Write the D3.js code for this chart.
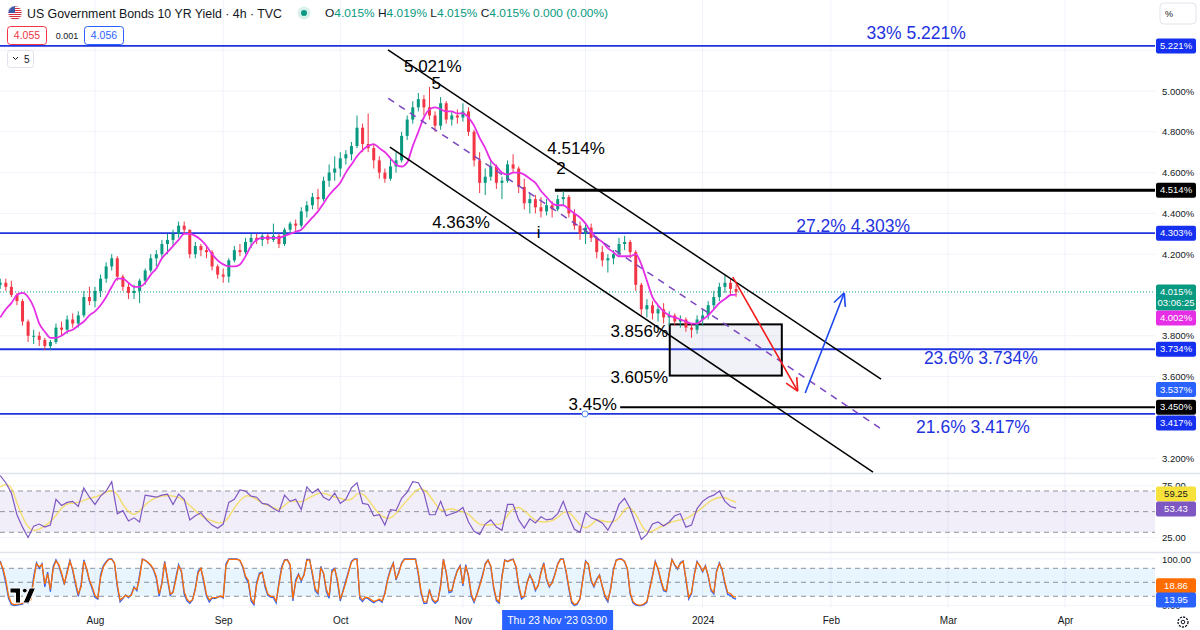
<!DOCTYPE html>
<html>
<head>
<meta charset="utf-8">
<script src="https://cdn.jsdelivr.net/npm/d3@7"></script>
<style>
  body { margin: 0; background: #fff; }
  svg { display: block; font-family: "Liberation Sans", Arial, sans-serif; }
</style>
</head>
<body>
<svg id="chart" width="1200" height="630"></svg>
<script>
// ---- daily candles, Jul 7 2023 .. Jan 9 2024 (weekdays only) ----
const opens = [4.05,4.06,4.04,4.00,3.97,3.87,3.80,3.80,3.78,3.75,
  3.77,3.84,3.83,3.88,3.86,3.90,3.99,
  3.97,4.02,4.08,4.14,4.18,4.09,4.04,4.01,4.02,4.07,
  4.12,4.18,4.20,4.25,4.27,4.30,4.34,4.32,4.20,4.24,
  4.22,4.21,4.14,4.10,4.09,4.17,4.22,4.21,4.26,4.28,
  4.27,4.29,4.27,4.29,4.25,4.32,4.35,4.34,4.41,4.44,
  4.48,4.47,4.56,4.60,4.62,4.67,4.69,4.73,4.82,4.74,
  4.72,4.66,4.60,4.57,4.63,4.66,4.78,4.86,4.92,4.96,
  4.92,4.88,4.83,4.94,4.86,4.88,4.87,4.90,4.80,4.66,
  4.55,4.58,4.63,4.55,4.56,4.64,4.62,4.53,4.45,4.47,
  4.43,4.41,4.44,4.42,4.47,4.48,4.40,4.34,4.30,4.33,
  4.28,4.21,4.17,4.18,4.20,4.25,4.26,4.21,4.05,3.93,
  3.95,3.91,3.93,3.89,3.90,3.87,3.88,3.84,3.83,3.88,
  3.90,3.95,3.99,4.04,4.06,4.03];
const highs = [4.08,4.08,4.07,4.01,3.98,3.88,3.83,3.82,3.79,3.78,
  3.86,3.87,3.90,3.91,3.92,4.02,4.04,
  4.04,4.10,4.16,4.20,4.19,4.10,4.06,4.05,4.08,4.13,
  4.20,4.22,4.27,4.30,4.32,4.36,4.36,4.32,4.26,4.25,
  4.24,4.22,4.15,4.13,4.18,4.24,4.25,4.28,4.30,4.30,
  4.30,4.30,4.35,4.30,4.33,4.36,4.37,4.43,4.46,4.50,
  4.52,4.58,4.64,4.68,4.70,4.71,4.75,4.88,4.84,4.89,
  4.74,4.68,4.62,4.67,4.70,4.80,4.88,4.95,4.99,4.98,
  5.02,4.90,4.97,4.95,4.90,4.91,4.94,4.92,4.81,4.70,
  4.62,4.66,4.64,4.58,4.66,4.69,4.63,4.57,4.50,4.49,
  4.48,4.47,4.46,4.49,4.51,4.49,4.42,4.36,4.35,4.35,
  4.29,4.24,4.20,4.22,4.28,4.29,4.27,4.22,4.06,3.98,
  3.97,3.95,3.96,3.92,3.91,3.90,3.89,3.86,3.90,3.93,
  3.97,4.02,4.06,4.10,4.08,4.05];
const lows = [4.03,4.02,3.99,3.95,3.85,3.77,3.76,3.75,3.73,3.73,
  3.76,3.80,3.81,3.84,3.84,3.89,3.95,
  3.94,3.99,4.06,4.12,4.07,4.02,3.98,3.98,3.96,4.05,
  4.11,4.14,4.18,4.20,4.24,4.28,4.30,4.18,4.18,4.19,
  4.18,4.12,4.08,4.06,4.06,4.16,4.19,4.20,4.23,4.25,
  4.24,4.25,4.26,4.23,4.24,4.30,4.31,4.33,4.38,4.42,
  4.42,4.46,4.53,4.56,4.58,4.64,4.66,4.72,4.70,4.70,
  4.62,4.57,4.55,4.56,4.60,4.65,4.76,4.84,4.90,4.88,
  4.86,4.80,4.81,4.84,4.83,4.84,4.85,4.78,4.63,4.50,
  4.49,4.56,4.52,4.47,4.55,4.60,4.50,4.42,4.40,4.40,
  4.38,4.39,4.38,4.41,4.44,4.38,4.32,4.27,4.25,4.26,
  4.18,4.14,4.11,4.15,4.19,4.22,4.18,4.02,3.90,3.89,
  3.88,3.87,3.86,3.85,3.85,3.84,3.82,3.79,3.81,3.85,
  3.88,3.93,3.97,4.01,4.00,3.99];
const closes = [4.06,4.04,4.00,3.97,3.87,3.80,3.80,3.78,3.75,3.77,
  3.84,3.83,3.88,3.86,3.90,3.99,3.97,
  4.02,4.08,4.14,4.18,4.09,4.04,4.01,4.02,4.07,4.12,
  4.18,4.20,4.25,4.27,4.30,4.34,4.32,4.20,4.24,4.22,
  4.21,4.14,4.10,4.09,4.17,4.22,4.21,4.26,4.28,4.27,
  4.29,4.27,4.29,4.25,4.32,4.35,4.34,4.41,4.44,4.48,
  4.47,4.56,4.60,4.62,4.67,4.69,4.73,4.82,4.74,4.72,
  4.66,4.60,4.57,4.63,4.66,4.78,4.86,4.92,4.96,4.92,
  4.88,4.83,4.94,4.86,4.88,4.87,4.90,4.80,4.66,4.55,
  4.58,4.63,4.55,4.56,4.64,4.62,4.53,4.45,4.47,4.43,
  4.41,4.44,4.42,4.47,4.48,4.40,4.34,4.30,4.33,4.28,
  4.21,4.17,4.18,4.20,4.25,4.26,4.21,4.05,3.93,3.95,
  3.91,3.93,3.89,3.90,3.87,3.88,3.84,3.83,3.88,3.90,
  3.95,3.99,4.04,4.06,4.03,4.015];

// magenta moving average, one value per candle
const maLine = [3.89,3.93,3.96,4.00,4.01,3.99,3.94,3.86,3.82,3.79,3.79,3.80,3.82,3.83,3.85,3.87,3.90,
  3.92,3.95,3.99,4.04,4.08,4.08,4.06,4.04,4.04,4.06,
  4.10,4.13,4.18,4.21,4.24,4.27,4.30,4.30,4.29,4.27,
  4.24,4.20,4.17,4.15,4.14,4.14,4.15,4.19,4.24,4.27,
  4.28,4.28,4.28,4.28,4.29,4.30,4.31,4.32,4.35,4.38,
  4.41,4.45,4.49,4.52,4.55,4.60,4.64,4.68,4.71,4.73,
  4.74,4.72,4.70,4.67,4.64,4.63,4.65,4.73,4.80,4.87,
  4.91,4.92,4.91,4.90,4.90,4.89,4.89,4.87,4.83,4.77,
  4.72,4.66,4.63,4.60,4.59,4.60,4.60,4.59,4.57,4.55,
  4.51,4.48,4.45,4.44,4.44,4.42,4.40,4.38,4.35,4.31,
  4.28,4.26,4.23,4.21,4.19,4.19,4.19,4.20,4.15,4.07,
  3.99,3.95,3.92,3.90,3.89,3.88,3.87,3.86,3.86,3.88,
  3.90,3.93,3.96,3.98,4.00,4.002];

// RSI and its moving average, one value per candle
const rsi = [85,78,68,47,35,25,36,38,35,37,62,56,59,60,55,73,64,
  57,65,70,79,48,51,41,44,40,66,
  65,64,66,67,57,67,62,42,46,49,
  42,37,34,38,59,62,71,70,65,64,
  58,57,53,50,66,60,62,52,74,68,
  72,64,61,68,58,62,73,78,58,57,
  46,47,37,52,51,63,69,79,78,68,
  47,47,60,46,48,50,54,40,31,28,
  38,42,35,32,57,57,42,34,43,39,
  45,42,43,48,60,45,33,30,49,44,
  42,39,32,42,57,63,53,38,23,28,
  38,40,36,40,46,48,35,37,53,60,
  64,66,70,60,55,53.43];
const rsiMa = [74,77,75,58,45,34,31,33,36,40,46,54,58,58,59,61,63,
  64,66,69,71,68,56,50,46,50,57,
  61,64,65,66,65,64,61,56,51,46,
  43,41,39,39,44,54,61,66,65,62,
  58,56,54,51,56,61,60,59,62,65,
  68,68,66,64,63,61,61,68,68,62,
  54,47,44,43,48,55,61,67,73,72,
  66,58,50,52,53,51,50,48,42,37,
  37,37,38,37,47,53,55,51,46,41,
  40,40,41,44,50,50,44,37,33,37,
  43,41,40,40,43,53,55,48,37,29,
  31,34,37,39,41,42,43,46,50,54,
  59,62,64,64,61,59.25];

// stochastic RSI, two readings per candle
const stochK = [96,75,48,15,2,0,1,2,3,9,5,18,62,92,80,90,40,72,30,84,98,86,66,45,74,97,75,45,20,45,98,78,52,36,
  18,14,66,86,94,100,100,90,40,8,
  15,23,17,24,40,32,66,100,97,92,
  86,76,58,20,50,95,55,22,30,60,
  88,72,25,10,5,12,38,74,80,50,
  20,8,16,15,18,20,16,90,100,100,
  100,100,96,82,60,50,10,2,50,70,
  72,40,22,18,17,6,50,84,98,99,
  86,10,55,68,52,68,99,99,66,32,
  25,84,68,30,16,76,80,50,10,33,
  54,75,95,100,100,15,9,17,15,10,
  6,10,12,7,28,58,78,92,55,72,
  92,100,100,100,100,100,66,25,5,5,
  35,12,5,10,45,100,70,28,30,58,
  76,86,42,88,62,20,7,25,45,65,
  90,98,83,38,10,5,64,98,94,98,
  100,83,40,14,19,50,67,52,32,44,
  72,92,55,40,50,68,90,100,100,72,
  36,6,0,3,14,58,96,88,52,40,
  57,66,40,18,8,38,78,98,100,100,
  94,78,24,6,1,0,0,2,7,38,
  65,95,78,52,32,30,70,99,86,78,
  92,96,55,14,26,68,95,84,72,86,
  62,32,25,75,92,76,46,24,22,16,
  13.95];
const stochD = [94,79,55,20,5,2,3,4,5,11,8,13,55,90,83,88,46,68,35,80,96,88,70,48,70,95,78,50,25,40,95,80,55,40,
  22,16,60,83,92,99,99,92,45,12,
  17,22,19,22,38,35,60,99,97,93,
  87,78,62,25,46,92,60,25,28,55,
  85,75,30,14,8,13,35,70,80,55,
  24,12,17,17,17,21,18,85,99,99,
  99,99,97,85,63,54,15,5,45,67,
  71,45,25,20,20,10,45,80,97,98,
  88,15,50,66,55,65,97,98,70,36,
  28,80,70,35,20,72,79,55,14,30,
  50,72,93,99,99,20,12,18,17,13,
  9,11,14,10,25,55,75,90,58,70,
  90,99,99,99,99,99,70,30,8,8,
  32,15,8,12,40,99,72,32,32,55,
  74,84,46,85,65,25,10,23,42,62,
  88,97,85,42,14,8,60,97,95,97,
  99,85,45,18,20,48,65,55,35,42,
  70,90,58,42,48,66,88,99,99,75,
  40,10,2,5,15,55,94,90,55,42,
  55,65,42,22,12,35,75,97,99,99,
  95,80,28,9,3,1,1,4,9,35,
  62,93,80,56,35,32,68,98,88,80,
  90,95,58,18,28,65,93,86,74,84,
  65,35,28,72,90,78,50,28,26,19,
  18.86];

// axis ticks
const priceTicks = [5.0, 4.8, 4.6, 4.4, 4.2, 3.8, 3.6, 3.2];
const priceGrid = [5.2, 5.0, 4.8, 4.6, 4.4, 4.2, 4.0, 3.8, 3.6, 3.4, 3.2];
const monthDates = ['2023-08-01','2023-09-01','2023-10-01','2023-11-01','2023-12-01','2024-01-01','2024-02-01','2024-03-01','2024-04-01'];
const monthLabels = ['Aug','Sep','Oct','Nov','Dec','2024','Feb','Mar','Apr'];

// drawn levels
const blueLevels = [5.221, 4.303, 3.734, 3.417];
const blueLevelText = ['33% 5.221%', '27.2% 4.303%', '23.6% 3.734%', '21.6% 3.417%'];

const BLUE = '#1f33e0', GREEN = '#089981', RED = '#f23645', INK = '#131722';
const PLOT_R = 1155;

// bar index counted in weekdays from the first candle
const START = new Date(2023, 6, 7);
function barOf(s) {
  const [Y, M, D] = s.split('-').map(Number);
  const t = new Date(Y, M - 1, D);
  let n = 0;
  for (let d = new Date(START); d < t; d.setDate(d.getDate() + 1)) {
    const w = d.getDay();
    if (w !== 0 && w !== 6) n++;
  }
  return n;
}

const x = d3.scaleLinear().domain([barOf('2023-08-01'), barOf('2024-04-01')]).range([95, 1065]);
const y = d3.scaleLinear().domain([3.2, 5.0]).range([458.2, 91]);
const yRsi = d3.scaleLinear().domain([30, 70]).range([532.3, 491]);
const yStoch = d3.scaleLinear().domain([20, 80]).range([596.3, 568.3]);

const svg = d3.select('#chart');
const defs = svg.append('defs');
defs.append('clipPath').attr('id', 'clipP').append('rect').attr('x', 0).attr('y', 0).attr('width', PLOT_R).attr('height', 473);
defs.append('clipPath').attr('id', 'clipR').append('rect').attr('x', 0).attr('y', 474).attr('width', PLOT_R).attr('height', 78);
defs.append('clipPath').attr('id', 'clipS').append('rect').attr('x', 0).attr('y', 553).attr('width', PLOT_R).attr('height', 56);
defs.append('clipPath').attr('id', 'clipFlag').append('circle').attr('cx', 15).attr('cy', 13).attr('r', 7);

// ---- grid ----
const grid = svg.append('g');
monthDates.forEach((d) => {
  grid.append('line').attr('x1', x(barOf(d))).attr('x2', x(barOf(d)))
    .attr('y1', 0).attr('y2', 609).attr('stroke', '#f0f3fa');
});
priceGrid.forEach((v) => {
  grid.append('line').attr('x1', 0).attr('x2', PLOT_R).attr('y1', y(v)).attr('y2', y(v)).attr('stroke', '#f0f3fa');
});
[75, 25].forEach((v) => grid.append('line').attr('x1', 0).attr('x2', PLOT_R).attr('y1', yRsi(v)).attr('y2', yRsi(v)).attr('stroke', '#f0f3fa'));
[100, 0].forEach((v) => grid.append('line').attr('x1', 0).attr('x2', PLOT_R).attr('y1', yStoch(v)).attr('y2', yStoch(v)).attr('stroke', '#f0f3fa'));

// panel separators
[473.5, 552.5].forEach((yy) => svg.append('line').attr('x1', 0).attr('x2', 1200).attr('y1', yy).attr('y2', yy).attr('stroke', '#e0e3eb').attr('stroke-width', 1.5));

// ---- price panel ----
const pg = svg.append('g').attr('clip-path', 'url(#clipP)');

// current price dotted line
pg.append('line').attr('x1', 0).attr('x2', PLOT_R).attr('y1', y(4.015)).attr('y2', y(4.015))
  .attr('stroke', GREEN).attr('stroke-dasharray', '1,2');

blueLevels.forEach((v) => {
  pg.append('line').attr('x1', 0).attr('x2', PLOT_R).attr('y1', y(v)).attr('y2', y(v))
    .attr('stroke', BLUE).attr('stroke-width', 1.8);
});
pg.append('line').attr('x1', x(99.5)).attr('x2', PLOT_R).attr('y1', y(4.514)).attr('y2', y(4.514))
  .attr('stroke', '#000').attr('stroke-width', 3);
pg.append('line').attr('x1', x(111.2)).attr('x2', PLOT_R).attr('y1', y(3.45)).attr('y2', y(3.45))
  .attr('stroke', '#000').attr('stroke-width', 2);

// target box
pg.append('rect').attr('x', x(120.1)).attr('y', y(3.856))
  .attr('width', x(140.2) - x(120.1)).attr('height', y(3.605) - y(3.856))
  .attr('fill', '#9598c8').attr('fill-opacity', 0.13).attr('stroke', '#000').attr('stroke-width', 2);

// candles
const bars = d3.range(closes.length);
const cg = pg.append('g');
cg.selectAll('line.wick').data(bars).enter().append('line')
  .attr('x1', (i) => x(i)).attr('x2', (i) => x(i))
  .attr('y1', (i) => y(highs[i])).attr('y2', (i) => y(lows[i]))
  .attr('stroke', (i) => closes[i] >= opens[i] ? GREEN : RED).attr('stroke-width', 1);
cg.selectAll('rect.body').data(bars).enter().append('rect')
  .attr('x', (i) => x(i) - 1.5).attr('width', 3)
  .attr('y', (i) => y(Math.max(opens[i], closes[i])))
  .attr('height', (i) => Math.max(1, Math.abs(y(opens[i]) - y(closes[i]))))
  .attr('fill', (i) => closes[i] >= opens[i] ? GREEN : RED);

// moving average
pg.append('path').datum(maLine)
  .attr('d', d3.line().x((d, i) => x(i)).y((d) => y(d)).curve(d3.curveMonotoneX))
  .attr('fill', 'none').attr('stroke', '#e62ee6').attr('stroke-width', 1.8);

// channel
function seg(b1, p1, b2, p2) {
  return pg.append('line').attr('x1', x(b1)).attr('y1', y(p1)).attr('x2', x(b2)).attr('y2', y(p2));
}
seg(69.56, 5.201, 158, 3.588).attr('stroke', '#000').attr('stroke-width', 1.5);
seg(69.9, 4.725, 156.56, 3.132).attr('stroke', '#000').attr('stroke-width', 1.5);
seg(69.6, 4.964, 157.8, 3.348).attr('stroke', '#7b45c0').attr('stroke-width', 1.5).attr('stroke-dasharray', '7,6');

// arrows
function arrow(b1, p1, b2, p2, color) {
  const x1 = x(b1), y1 = y(p1), x2 = x(b2), y2 = y(p2);
  pg.append('line').attr('x1', x1).attr('y1', y1).attr('x2', x2).attr('y2', y2)
    .attr('stroke', color).attr('stroke-width', 1.6);
  const a = Math.atan2(y2 - y1, x2 - x1);
  [-0.45, 0.45].forEach((s) => {
    pg.append('line').attr('x1', x2).attr('y1', y2)
      .attr('x2', x2 - 14 * Math.cos(a + s)).attr('y2', y2 - 14 * Math.sin(a + s))
      .attr('stroke', color).attr('stroke-width', 1.6);
  });
}
arrow(131.4, 4.088, 143.05, 3.529, '#f21b1b');
arrow(144.4, 3.52, 151.4, 4.01, '#1c46ee');

// text notes
const notes = [
  { t: '5.021%', b: 77.6, p: 5.1225, a: 'middle' },
  { t: '5', b: 78.2, p: 5.039, a: 'middle' },
  { t: '4.514%', b: 103.3, p: 4.72, a: 'middle' },
  { t: '2', b: 100.6, p: 4.622, a: 'middle' },
  { t: '4.363%', b: 82.65, p: 4.358, a: 'middle' },
  { t: 'i', b: 96.6, p: 4.309, a: 'middle' },
  { t: '3.856%', b: 119.8, p: 3.824, a: 'end' },
  { t: '3.605%', b: 119.8, p: 3.598, a: 'end' },
  { t: '3.45%', b: 110.6, p: 3.468, a: 'end' },
];
notes.forEach((n) => {
  pg.append('text').attr('x', x(n.b)).attr('y', y(n.p)).attr('dy', '0.36em')
    .attr('text-anchor', n.a).attr('font-size', 17).attr('fill', '#000').text(n.t);
});
const levelTextPos = [[164.3, 5.284], [153.0, 4.338], [175.9, 3.691], [174.5, 3.353]];
blueLevelText.forEach((t, k) => {
  pg.append('text').attr('x', x(levelTextPos[k][0])).attr('y', y(levelTextPos[k][1])).attr('dy', '0.36em')
    .attr('text-anchor', 'middle').attr('font-size', 17.5).attr('fill', BLUE).text(t);
});
// cursor dot
pg.append('circle').attr('cx', x(104.9)).attr('cy', y(3.417)).attr('r', 3)
  .attr('fill', '#fff').attr('stroke', '#5b8cf0').attr('stroke-width', 1);

// ---- RSI panel ----
const rg = svg.append('g').attr('clip-path', 'url(#clipR)');
rg.append('rect').attr('x', 0).attr('width', PLOT_R).attr('y', yRsi(70)).attr('height', yRsi(30) - yRsi(70))
  .attr('fill', '#7e57c2').attr('fill-opacity', 0.1);
[70, 50, 30].forEach((v) => rg.append('line').attr('x1', 0).attr('x2', PLOT_R).attr('y1', yRsi(v)).attr('y2', yRsi(v))
  .attr('stroke', '#787b86').attr('stroke-dasharray', '5,4').attr('stroke-opacity', 0.8));
rg.append('path').datum(rsiMa)
  .attr('d', d3.line().x((d, i) => x(i)).y((d) => yRsi(d)).curve(d3.curveBasis))
  .attr('fill', 'none').attr('stroke', '#f5d84a').attr('stroke-opacity', 0.8).attr('stroke-width', 1.4);
rg.append('path').datum(rsi)
  .attr('d', d3.line().x((d, i) => x(i)).y((d) => yRsi(d)))
  .attr('fill', 'none').attr('stroke', '#7e57c2').attr('stroke-width', 1.2);

// ---- Stoch RSI panel ----
const sg = svg.append('g').attr('clip-path', 'url(#clipS)');
sg.append('rect').attr('x', 0).attr('width', PLOT_R).attr('y', yStoch(80)).attr('height', yStoch(20) - yStoch(80))
  .attr('fill', '#2196f3').attr('fill-opacity', 0.1);
[80, 50, 20].forEach((v) => sg.append('line').attr('x1', 0).attr('x2', PLOT_R).attr('y1', yStoch(v)).attr('y2', yStoch(v))
  .attr('stroke', '#787b86').attr('stroke-dasharray', '5,4').attr('stroke-opacity', 0.8));
sg.append('path').datum(stochK)
  .attr('d', d3.line().x((d, k) => x(k / 2)).y((d) => yStoch(d)))
  .attr('fill', 'none').attr('stroke', '#2962ff').attr('stroke-width', 1.3);
sg.append('path').datum(stochD)
  .attr('d', d3.line().x((d, k) => x(k / 2)).y((d) => yStoch(d)))
  .attr('fill', 'none').attr('stroke', '#ff6d00').attr('stroke-width', 1.3);

// TradingView logo
const logo = svg.append('g').attr('fill', '#000').attr('stroke', '#fff').attr('stroke-width', 1);
logo.append('path').attr('d', 'M10,588 h10.5 v15 h-5 v-10 h-5.5 z');
logo.append('circle').attr('cx', 24.8).attr('cy', 590.6).attr('r', 2.4);
logo.append('path').attr('d', 'M29.5,588 h6 l-6.5,15 h-6 z');

// ---- axes ----
const axisFont = (g) => {
  g.select('.domain').remove();
  g.selectAll('text').attr('font-size', 9.5).attr('fill', INK).attr('font-family', '"Liberation Sans", Arial, sans-serif');
};
svg.append('g').attr('transform', `translate(${PLOT_R + 2},0)`)
  .call(d3.axisRight(y).tickValues(priceTicks).tickSize(0).tickPadding(5).tickFormat((v) => d3.format('.3f')(v) + '%'))
  .call(axisFont);
svg.append('g').attr('transform', `translate(${PLOT_R + 2},0)`)
  .call(d3.axisRight(yRsi).tickValues([75, 25]).tickSize(0).tickPadding(5).tickFormat(d3.format('.2f')))
  .call(axisFont);
svg.append('g').attr('transform', `translate(${PLOT_R + 2},0)`)
  .call(d3.axisRight(yStoch).tickValues([100, 0]).tickSize(0).tickPadding(5).tickFormat(d3.format('.2f')))
  .call(axisFont);
// the "Dec" label sits under the crosshair date tag, so it is left out of the axis
const shownMonths = monthDates.filter((d, k) => monthLabels[k] !== 'Dec');
svg.append('g').attr('transform', 'translate(0,611)')
  .call(d3.axisBottom(x).tickValues(shownMonths.map(barOf)).tickSize(0).tickPadding(6)
    .tickFormat((b) => monthLabels[monthDates.map(barOf).indexOf(b)]))
  .call(axisFont)
  .call((g) => g.selectAll('text').attr('font-size', 10));

// crosshair time label
const cx = x(barOf('2023-11-23')) + 5;
svg.append('rect').attr('x', cx - 55).attr('y', 610).attr('width', 111).attr('height', 20).attr('fill', '#2962ff');
svg.append('text').attr('x', cx - 50).attr('y', 620).attr('dy', '0.36em').attr('font-size', 10.5)
  .attr('fill', '#fff').text("Thu 23 Nov '23");
svg.append('text').attr('x', cx + 50).attr('y', 620).attr('dy', '0.36em').attr('font-size', 10.5)
  .attr('text-anchor', 'end').attr('fill', '#fff').text('03:00');

// right-axis value tags
function tag(yc, lines, bg, fg) {
  const h = lines.length > 1 ? 26 : 15;
  svg.append('rect').attr('x', 1156).attr('y', yc - 7.5).attr('width', 40).attr('height', h).attr('rx', 2).attr('fill', bg);
  lines.forEach((t, k) => {
    svg.append('text').attr('x', 1176).attr('y', yc + k * 11).attr('dy', '0.33em')
      .attr('text-anchor', 'middle').attr('font-size', 9.5).attr('fill', fg).text(t);
  });
}
tag(y(5.221), ['5.221%'], '#1530f0', '#fff');
tag(y(4.514), ['4.514%'], '#000', '#fff');
tag(y(4.303), ['4.303%'], '#1530f0', '#fff');
tag(y(4.015), ['4.015%', '03:06:25'], GREEN, '#fff');
tag(y(4.002) + 23.5, ['4.002%'], '#e62ee6', '#fff');
tag(y(3.734), ['3.734%'], '#1530f0', '#fff');
tag(y(3.537), ['3.537%'], '#2962ff', '#fff');
tag(y(3.45), ['3.450%'], '#000', '#fff');
tag(y(3.417) + 9, ['3.417%'], '#1530f0', '#fff');
tag(yRsi(59.25) - 8, ['59.25'], '#f7e23c', INK);
tag(yRsi(53.43) + 1, ['53.43'], '#7e57c2', '#fff');
tag(yStoch(18.86) - 11, ['18.86'], '#ff6d00', '#fff');
tag(yStoch(13.95) + 1, ['13.95'], '#2962ff', '#fff');

// settings gear
svg.append('circle').attr('cx', 1183).attr('cy', 622).attr('r', 5).attr('fill', 'none').attr('stroke', INK).attr('stroke-width', 1.3).attr('stroke-dasharray', '2.2,1.1');
svg.append('circle').attr('cx', 1183).attr('cy', 622).attr('r', 1.8).attr('fill', 'none').attr('stroke', INK);

// "%" scale button
svg.append('rect').attr('x', 1160).attr('y', 3).attr('width', 36).attr('height', 21).attr('rx', 4)
  .attr('fill', '#fff').attr('stroke', '#e0e3eb');
svg.append('text').attr('x', 1165).attr('y', 13.5).attr('dy', '0.36em').attr('font-size', 9).attr('fill', INK).text('%');

// ---- header ----
const flag = svg.append('g').attr('clip-path', 'url(#clipFlag)');
d3.range(7).forEach((k) => flag.append('rect').attr('x', 8).attr('y', 6 + k * 2).attr('width', 14).attr('height', 1)
  .attr('fill', '#d8323c'));
flag.append('rect').attr('x', 8).attr('y', 6).attr('width', 7).attr('height', 7).attr('fill', '#3c5aa8');
svg.append('circle').attr('cx', 15).attr('cy', 13).attr('r', 7).attr('fill', 'none').attr('stroke', '#e0e3eb').attr('stroke-width', 0.6);

svg.append('text').attr('x', 27).attr('y', 13).attr('dy', '0.36em').attr('font-size', 12.5)
  .attr('fill', INK).attr('textLength', 255).attr('lengthAdjust', 'spacingAndGlyphs')
  .text('US Government Bonds 10 YR Yield \u00b7 4h \u00b7 TVC');
svg.append('circle').attr('cx', 304).attr('cy', 13).attr('r', 6.5).attr('fill', GREEN).attr('fill-opacity', 0.15);
svg.append('circle').attr('cx', 304).attr('cy', 13).attr('r', 3).attr('fill', GREEN);

const ohlcLabels = ['O', 'H', 'L', 'C', ''];
const ohlcValues = ['4.015%', '4.019%', '4.015%', '4.015%', '0.000 (0.00%)'];
const ohlc = svg.append('text').attr('x', 325).attr('y', 13).attr('dy', '0.36em').attr('font-size', 11.5)
  .attr('textLength', 283).attr('lengthAdjust', 'spacingAndGlyphs');
ohlcLabels.forEach((l, k) => {
  ohlc.append('tspan').attr('fill', INK).text((k ? ' ' : '') + l);
  ohlc.append('tspan').attr('fill', GREEN).text(ohlcValues[k]);
});

svg.append('rect').attr('x', 7.5).attr('y', 26.5).attr('width', 39).attr('height', 18).attr('rx', 3)
  .attr('fill', '#fff').attr('stroke', RED);
svg.append('text').attr('x', 27).attr('y', 35.5).attr('dy', '0.36em').attr('text-anchor', 'middle')
  .attr('font-size', 10.5).attr('fill', RED).text('4.055');
svg.append('text').attr('x', 67).attr('y', 35.5).attr('dy', '0.36em').attr('text-anchor', 'middle')
  .attr('font-size', 9).attr('fill', INK).text('0.001');
svg.append('rect').attr('x', 84.5).attr('y', 26.5).attr('width', 39).attr('height', 18).attr('rx', 3)
  .attr('fill', '#fff').attr('stroke', '#2962ff');
svg.append('text').attr('x', 104).attr('y', 35.5).attr('dy', '0.36em').attr('text-anchor', 'middle')
  .attr('font-size', 10.5).attr('fill', '#2962ff').text('4.056');

svg.append('rect').attr('x', 7.5).attr('y', 50.5).attr('width', 26).attr('height', 17).attr('rx', 3)
  .attr('fill', '#fff').attr('stroke', '#e0e3eb');
svg.append('path').attr('d', 'M13,57 l2.5,2.5 l2.5,-2.5').attr('fill', 'none').attr('stroke', INK).attr('stroke-width', 1);
svg.append('text').attr('x', 24).attr('y', 59).attr('dy', '0.36em').attr('font-size', 10).attr('fill', INK).text('5');
</script>
</body>
</html>
